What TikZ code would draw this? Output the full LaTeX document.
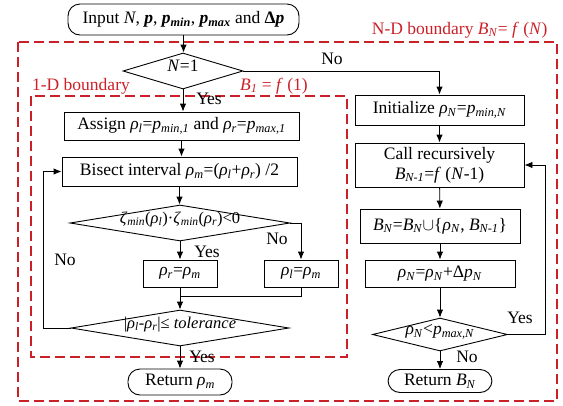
\documentclass[tikz,border=0pt]{standalone}
\usepackage{fontspec}
\setmainfont{Liberation Serif}
\usetikzlibrary{shapes.geometric,positioning,arrows.meta}

\definecolor{bdred}{RGB}{204,32,40}

% text that does not widen a node
\newcommand{\slim}[1]{\smash{\makebox[0pt]{#1}}}
\newcommand{\rh}[1]{\textit{ρ}\textsubscript{\textit{#1}}}
\newcommand{\pp}[1]{\textit{p}\textsubscript{\textit{#1}}}
\newcommand{\bp}[1]{\textbf{\textit{p}}\textsubscript{\textbf{\textit{#1}}}}
\newcommand{\BB}[1]{\textit{B}\textsubscript{\textit{#1}}}
\newcommand{\zm}{\textit{ζ}\textsubscript{\textit{min}}}

\begin{document}
\begin{tikzpicture}[x=1pt,y=-1pt,font=\fontsize{17.5}{20}\selectfont,
    box/.style={draw,rectangle,inner sep=0pt,line width=0.9pt},
    term/.style={draw,rectangle,rounded corners=12pt,inner sep=0pt,line width=0.9pt},
    decision/.style={draw,diamond,inner sep=0pt,line width=0.9pt},
    small/.style={font=\fontsize{16.5}{19}\selectfont},
    flow/.style={-{Latex[length=8pt,width=6.5pt]},line width=0.9pt},
    link/.style={line width=0.9pt},
    region/.style={draw=bdred,dash pattern=on 10pt off 5pt,line width=1.2pt},
    note/.style={text=bdred}]
    \useasboundingbox (0,0) rectangle (563,405);

    % boundaries
    \draw[region] (18,42) rectangle (557,401);
    \draw[region] (31,96) rectangle (347,357);
    \node[note,anchor=east] (ndlab) at (551,30) {N-D boundary \BB{N}= \textit{f} (\textit{N})};
    \node[note] (odlab) at (81,86) {1-D boundary};
    \node[note] (odf) at (274,86) {\BB{1} = \textit{f} (1)};

    % start
    \node[term,minimum width=231pt,minimum height=31pt] (input) at (183.5,19.5)
        {Input \textit{N}, \textbf{\textit{p}}, \bp{min}, \bp{max} and \textbf{Δ\textit{p}}};
    \node[decision,minimum width=120pt,minimum height=36pt] (n1) at (183,71) {\slim{\textit{N}=1}};

    % 1-D bisection
    \node[box,minimum width=235pt,minimum height=28pt] (assign) at (181.5,126)
        {Assign \rh{l}=\pp{min,1} and \rh{r}=\pp{max,1}};
    \node[box,minimum width=235pt,minimum height=29pt] (bisect) at (179.5,171.5)
        {Bisect interval \rh{m}=(\rh{l}+\rh{r}) /2};
    \node[decision,small,minimum width=220pt,minimum height=36pt] (sign) at (180,223)
        {\slim{\zm(\rh{l})·\zm(\rh{r})<0}};
    \node[box,minimum width=74pt,minimum height=27pt] (setr) at (180,273.5) {\rh{r}=\rh{m}};
    \node[box,minimum width=74pt,minimum height=27pt] (setl) at (301,273.5) {\rh{l}=\rh{m}};
    \node[decision,small,minimum width=218pt,minimum height=36pt] (tol) at (180,328)
        {\slim{|\rh{l}-\rh{r}|≤ \textit{tolerance}}};
    \node[term,minimum width=104pt,minimum height=26pt] (retm) at (180,382) {Return \rh{m}};

    % N-D recursion
    \node[box,minimum width=169pt,minimum height=30pt] (init) at (439.5,110)
        {Initialize \rh{N}=\pp{min,N}};
    \node[box,minimum width=169pt,minimum height=44pt,align=center] (call) at (439.5,165)
        {Call recursively\\\BB{N-1}=\textit{f} (\textit{N}-1)};
    \node[box,minimum width=160pt,minimum height=34pt] (union) at (440,226)
        {\BB{N}=\BB{N}$\cup$\{\rh{N}, \BB{N-1}\}};
    \node[box,minimum width=150pt,minimum height=27pt] (incr) at (440,273.5)
        {\rh{N}=\rh{N}+Δ\pp{N}};
    \node[decision,minimum width=135pt,minimum height=33pt] (lim) at (440,334.5)
        {\slim{\rh{N}<\pp{max,N}}};
    \node[term,minimum width=104pt,minimum height=23pt] (retb) at (440,381) {Return \BB{N}};

    \coordinate (merge) at (180,296);
    \coordinate (back) at (43,328);
    \coordinate (again) at (545,334.5);

    % connectors
    \draw[flow] (input.south) -- (input.south |- n1.north);
    \draw[flow] (n1.south) -- (n1.south |- assign.north);
    \draw[flow] (n1.east) -| (init.north);
    \draw[flow] (assign.south) -- (assign.south |- bisect.north);
    \draw[flow] (bisect.south) -- (bisect.south |- sign.north);
    \draw[flow] (sign.south) -- (setr.north);
    \draw[flow] (sign.east) -| (setl.north);
    \draw[flow] (setr.south) -- (tol.north);
    \draw[link] (setl.south) |- (merge);
    \draw[flow] (tol.west) -- (back) |- (bisect.west);
    \draw[flow] (tol.south) -- (retm.north);
    \draw[flow] (init) -- (call);
    \draw[flow] (call) -- (union);
    \draw[flow] (union) -- (incr);
    \draw[flow] (incr) -- (lim);
    \draw[flow] (lim) -- (retb);
    \draw[flow] (lim.east) -- (again) |- (call.east);

    % branch labels
    \node (no1) at (332,59) {No};
    \node (yes1) at (209,99) {Yes};
    \node (yes2) at (207,252) {Yes};
    \node (no2) at (277,239) {No};
    \node (no3) at (65,260) {No};
    \node (yes3) at (202,357) {Yes};
    \node (yes4) at (520,318) {Yes};
    \node (no4) at (467,357) {No};
\end{tikzpicture}
\end{document}
